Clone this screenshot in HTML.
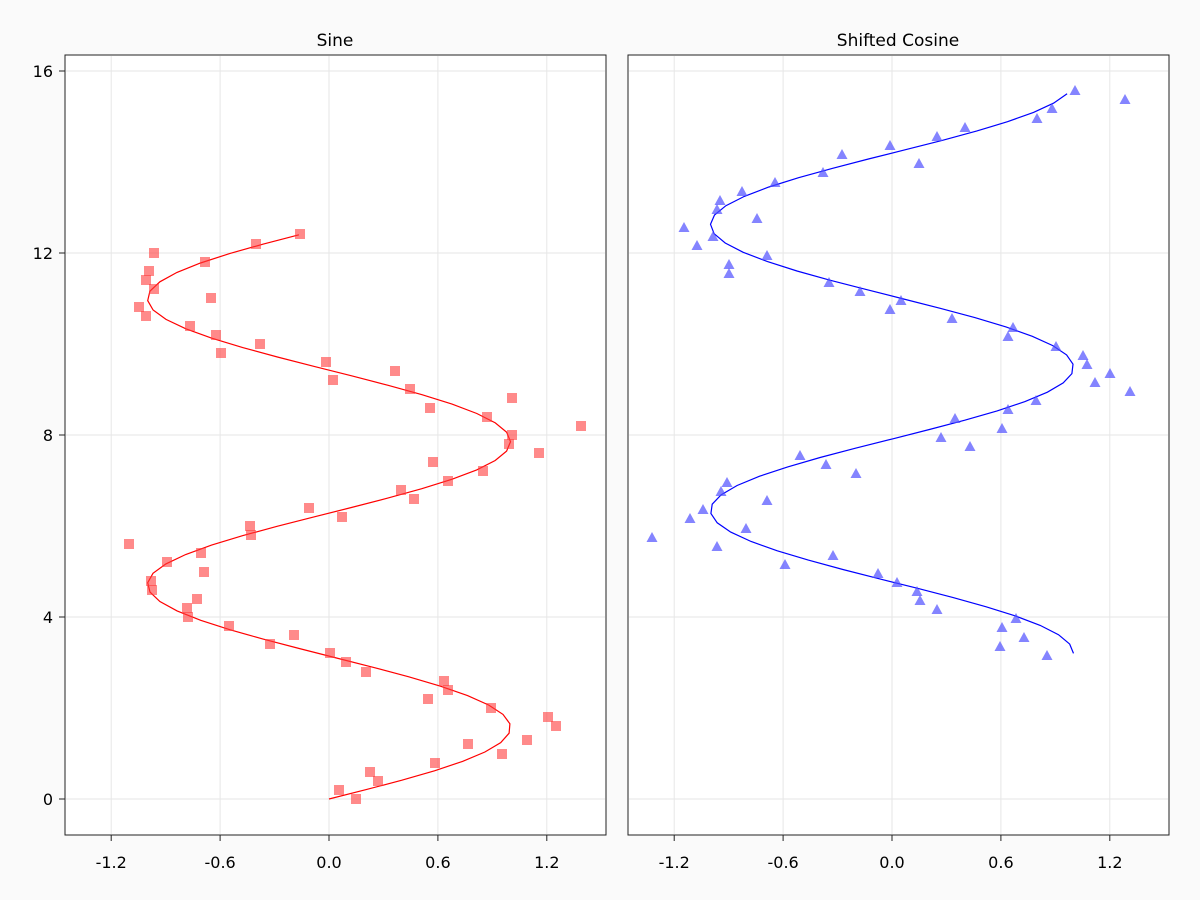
<!DOCTYPE html>
<html><head><meta charset="utf-8"><style>
body{margin:0;background:#fafafa;}
svg{display:block;font-family:"DejaVu Sans","Liberation Sans",sans-serif;}
</style></head><body>
<svg id="s" width="1200" height="900" xmlns="http://www.w3.org/2000/svg">
<rect width="1200" height="900" fill="#fafafa"/>
<rect x="65" y="55" width="541" height="780" fill="#fff" stroke="#222" stroke-width="1"/>
<rect x="628" y="55" width="541" height="780" fill="#fff" stroke="#222" stroke-width="1"/>
<text x="335" y="46" font-size="17" text-anchor="middle">Sine</text>
<text x="898" y="46" font-size="17" text-anchor="middle">Shifted Cosine</text>
<g id="g"></g>
</svg>
<script>
const NS="http://www.w3.org/2000/svg",g=document.getElementById('g');
function el(t,a,txt){const e=document.createElementNS(NS,t);for(const k in a)e.setAttribute(k,a[k]);if(txt!==undefined)e.textContent=txt;g.appendChild(e);return e;}
const Y=v=>799-v*45.5;
const panels=[{x0:329,L:65},{x0:892,L:628}];
const ppu=181.5;
panels.forEach((p,i)=>{
 [-1.2,-0.6,0,0.6,1.2].forEach(v=>{const x=p.x0+v*ppu;
  el('line',{x1:x,x2:x,y1:56,y2:834,stroke:'#e6e6e6'});
  el('line',{x1:x,x2:x,y1:835,y2:841,stroke:'#222'});
  el('text',{x:x,y:868,'font-size':16,'text-anchor':'middle'},v===0?'0.0':v.toFixed(1));});
 [0,4,8,12,16].forEach(v=>{const y=Y(v);
  el('line',{x1:p.L+1,x2:p.L+540,y1:y,y2:y,stroke:'#e6e6e6'});
  if(i==0){el('line',{x1:59,x2:65,y1:y,y2:y,stroke:'#222'});
  el('text',{x:53,y:y+6,'font-size':16,'text-anchor':'end'},String(v));}});
});
let d='';for(let k=0;k<=60;k++){const y=12.4*k/60;d+=(k?'L':'M')+(329+Math.sin(y)*ppu).toFixed(1)+','+Y(y).toFixed(1);}
el('path',{d:d,fill:'none',stroke:'#f00','stroke-width':1.2});
d='';for(let k=0;k<=60;k++){const y=3.2+12.3*k/60;d+=(k?'L':'M')+(892+Math.cos(y-3.2)*ppu).toFixed(1)+','+Y(y).toFixed(1);}
el('path',{d:d,fill:'none',stroke:'#00f','stroke-width':1.2});
const sq=[[339,790],[356,799],[370,772],[378,781],[435,763],[468,744],[502,754],[527,740],[556,726],[548,717],[491,708],[428,699],[444,681],[448,690],[366,672],[346,662],[330,653],[294,635],[270,644],[229,626],[188,617],[187,608],[197,599],[152,590],[151,581],[204,572],[201,553],[167,562],[129,544],[251,535],[250,526],[342,517],[309,508],[414,499],[401,490],[448,481],[433,462],[483,471],[539,453],[509,444],[512,435],[581,426],[487,417],[430,408],[512,398],[410,389],[395,371],[333,380],[326,362],[221,353],[260,344],[216,335],[190,326],[146,316],[139,307],[211,298],[154,289],[146,280],[149,271],[154,253],[205,262],[256,244],[300,234]];
sq.forEach(([x,y])=>el('rect',{x:x-5,y:y-5,width:10,height:10,fill:'rgba(255,60,60,0.6)'}));
const tr=[[1075,91],[1125,100],[1052,109],[1037,119],[965,128],[937,137],[890,146],[842,155],[919,164],[823,173],[775,183],[742,192],[720,201],[717,210],[757,219],[684,228],[713,237],[697,246],[767,256],[729,265],[729,274],[829,283],[860,292],[901,301],[890,310],[952,319],[1013,328],[1008,337],[1056,347],[1083,356],[1087,365],[1110,374],[1095,383],[1130,392],[1036,401],[1008,410],[955,419],[941,438],[1002,429],[970,447],[800,456],[826,465],[856,474],[727,483],[767,501],[721,492],[703,510],[690,519],[746,529],[652,538],[717,547],[833,556],[785,565],[878,574],[897,583],[917,592],[920,601],[937,610],[1016,619],[1002,628],[1024,638],[1000,647],[1047,656]];
tr.forEach(([x,y])=>el('polygon',{points:`${x},${y-6} ${x-5.5},${y+4} ${x+5.5},${y+4}`,fill:'rgba(80,80,255,0.7)'}));
</script>
</body></html>
